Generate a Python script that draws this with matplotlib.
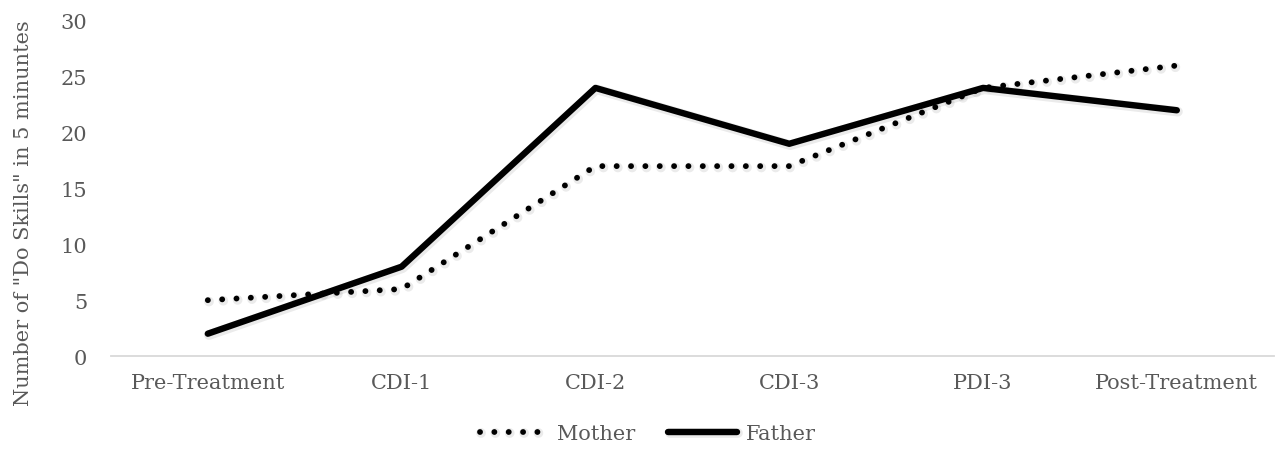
import matplotlib.pyplot as plt
import matplotlib.patheffects as pe

categories = ['Pre-Treatment', 'CDI-1', 'CDI-2', 'CDI-3', 'PDI-3', 'Post-Treatment']
mother = [5, 6, 17, 17, 24, 26]
father = [2, 8, 24, 19, 24, 22]
yticks = [0, 5, 10, 15, 20, 25, 30]

plt.rcParams['font.family'] = ['DejaVu Serif']
grey = '#595959'
fs = 15

fig = plt.figure(figsize=(12.75, 4.56), dpi=100)
ax = fig.add_axes([0.087, 0.217, 0.912, 0.735])

shadow = [pe.SimpleLineShadow(offset=(0.8, -1.0), shadow_color='#000000', alpha=0.08, linewidth=7),
          pe.Normal()]
x = list(range(len(categories)))
ax.plot(x, mother, color='black', lw=4.2, linestyle=(0, (0.01, 2.45)),
        dash_capstyle='round', label='Mother', path_effects=shadow)
ax.plot(x, father, color='black', lw=4.6, solid_capstyle='round',
        solid_joinstyle='round', label='Father', path_effects=shadow)

ax.set_xlim(-0.5, len(categories) - 0.5)
ax.set_ylim(0, 30)
ax.set_xticks(x)
ax.set_xticklabels(categories)
ax.set_yticks(yticks)
ax.tick_params(axis='both', length=0, labelsize=fs, colors=grey)
ax.tick_params(axis='x', pad=12)
ax.tick_params(axis='y', pad=17)
for s in ['top', 'right', 'left']:
    ax.spines[s].set_visible(False)
ax.spines['bottom'].set_color('#d9d9d9')
ax.spines['bottom'].set_linewidth(1.3)

ax.set_ylabel('Number of "Do Skills" in 5 minuntes', fontsize=fs, color=grey)
ax.yaxis.set_label_coords(-0.067, 0.43)

leg = fig.legend(loc='lower center', bbox_to_anchor=(0.508, -0.015), ncol=2, frameon=False,
                 fontsize=fs, handlelength=3.3, handletextpad=0.4, columnspacing=1.6)
for t in leg.get_texts():
    t.set_color(grey)

fig.savefig('out.png', dpi=100)
